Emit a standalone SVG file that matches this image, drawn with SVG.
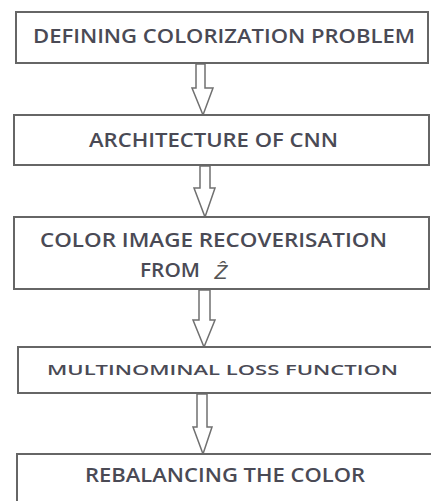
<svg xmlns="http://www.w3.org/2000/svg" width="431" height="501" viewBox="0 0 431 501">
<style>
.box{fill:#ffffff;stroke:#666666;stroke-width:2}
.arr{fill:#ffffff;stroke:#707070;stroke-width:1.5;stroke-linejoin:miter}
.t{font-family:"Open Sans","Liberation Sans",Arial,sans-serif;font-weight:600;fill:#4a4a55;text-anchor:middle;dominant-baseline:central}
</style>
<rect width="431" height="501" fill="#ffffff"/>
<g id="connectors">
<path class="arr" d="M196,64 L205,64 L205,88 L213,88 L203,115 L192,88 L196,88 Z"/>
<path class="arr" d="M200,166 L210,166 L210,188 L215,188 L205,217 L194,188 L200,188 Z"/>
<path class="arr" d="M199,290 L210,290 L210,320 L215,320 L204,347 L193,320 L199,320 Z"/>
<path class="arr" d="M197,394 L207,394 L207,427 L212,427 L203,454 L193,427 L197,427 Z"/>
</g>
<g id="n1">
<rect class="box" x="16" y="12" width="412" height="51"/>
<text class="t" x="224" y="36" font-size="19" textLength="382" lengthAdjust="spacingAndGlyphs">DEFINING COLORIZATION PROBLEM</text>
</g>
<g id="n2">
<rect class="box" x="14" y="115" width="415" height="50"/>
<text class="t" x="213.5" y="140" font-size="19" textLength="249" lengthAdjust="spacingAndGlyphs">ARCHITECTURE OF CNN</text>
</g>
<g id="n3">
<rect class="box" x="14" y="217" width="415" height="72"/>
<text class="t" x="213.5" y="240" font-size="19" textLength="347" lengthAdjust="spacingAndGlyphs">COLOR IMAGE RECOVERISATION</text>
<text class="t" x="170" y="270" font-size="19" textLength="60" lengthAdjust="spacingAndGlyphs">FROM</text>
<text x="221" y="271" font-size="21" font-style="italic" font-family="'Liberation Sans',Arial,sans-serif" fill="#555555" text-anchor="middle" dominant-baseline="central">Ẑ</text>
</g>
<g id="n4">
<rect class="box" x="18" y="347" width="425" height="46"/>
<text class="t" x="222.5" y="369" font-size="15" textLength="351" lengthAdjust="spacingAndGlyphs">MULTINOMINAL LOSS FUNCTION</text>
</g>
<g id="n5">
<rect class="box" x="17" y="454" width="426" height="60"/>
<text class="t" x="225" y="475" font-size="19" textLength="280" lengthAdjust="spacingAndGlyphs">REBALANCING THE COLOR</text>
</g>
</svg>
